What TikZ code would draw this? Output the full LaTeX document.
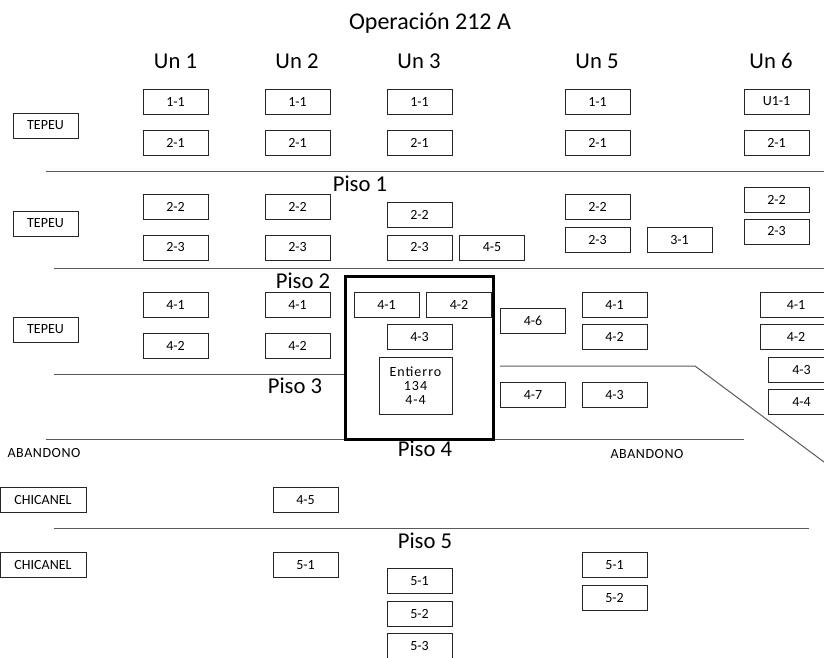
\documentclass[tikz,border=0pt]{standalone}
\usepackage{fontspec}
\setmainfont{Carlito}
\begin{document}
\begin{tikzpicture}[x=0.75pt, y=-0.75pt,
	bx/.style={draw=black!85, line width=0.75pt, minimum width=48.75pt, minimum height=18.75pt, inner sep=0pt, font=\fontsize{10.5}{12}\selectfont},
	hd/.style={font=\fontsize{17}{20}\selectfont, anchor=base, inner sep=0pt},
	sm/.style={font=\fontsize{10.5}{12}\selectfont, inner sep=0pt},
	sep/.style={line width=0.75pt, black!65},
	zn/.style={line width=2.25pt, black}]

	\useasboundingbox (0,0) rectangle (824,657);
	\clip (0,0) rectangle (824,657);

	% titulo y unidades
	\node[hd, font=\fontsize{18}{21}\selectfont] (titulo) at (430,29) {Operación 212 A};
	\node[hd] (un1) at (175.5,68) {Un 1};
	\node[hd] (un2) at (297,68) {Un 2};
	\node[hd] (un3) at (419,68) {Un 3};
	\node[hd] (un5) at (597,68) {Un 5};
	\node[hd] (un6) at (771,68) {Un 6};

	% estratos
	\draw[sep] (46,171) -- (824,171);
	\draw[sep] (54,268) -- (824,268);
	\draw[sep] (54,374) -- (345,374);
	\draw[sep] (500,366) -- (695,366) -- (824,462);
	\draw[sep] (46,439) -- (744,439);
	\draw[sep] (54,528) -- (809,528);
	\node[hd] (p1) at (360,191) {Piso 1};
	\node[hd] (p2) at (303,288) {Piso 2};
	\node[hd] (p3) at (295,393) {Piso 3};
	\node[hd] (p4) at (425,456) {Piso 4};
	\node[hd] (p5) at (425,548) {Piso 5};

	% piso 1
	\node[bx] (t1) at (45.5,125.5) {TEPEU};
	\node[bx] (u1a) at (175.5,101.5) {1-1};
	\node[bx] (u1b) at (175.5,142.5) {2-1};
	\node[bx] (u2a) at (297.5,101.5) {1-1};
	\node[bx] (u2b) at (297.5,142.5) {2-1};
	\node[bx] (u3a) at (419.5,101.5) {1-1};
	\node[bx] (u3b) at (419.5,142.5) {2-1};
	\node[bx] (u5a) at (597.5,101.5) {1-1};
	\node[bx] (u5b) at (597.5,142.5) {2-1};
	\node[bx] (u6a) at (776.5,101.5) {U1-1};
	\node[bx] (u6b) at (776.5,142.5) {2-1};

	% piso 2
	\node[bx] (t2) at (45.5,223.5) {TEPEU};
	\node[bx] (u1c) at (175.5,207) {2-2};
	\node[bx] (u1d) at (175.5,247.5) {2-3};
	\node[bx] (u2c) at (297.5,207) {2-2};
	\node[bx] (u2d) at (297.5,247.5) {2-3};
	\node[bx] (u3c) at (419.5,215) {2-2};
	\node[bx] (u3d) at (419.5,247.5) {2-3};
	\node[bx] (u3e) at (492,247.5) {4-5};
	\node[bx] (u5c) at (597.5,207) {2-2};
	\node[bx] (u5d) at (597.5,239.5) {2-3};
	\node[bx] (u5e) at (679.5,239.5) {3-1};
	\node[bx] (u6c) at (776.5,199.5) {2-2};
	\node[bx] (u6d) at (776.5,231.5) {2-3};

	% piso 3
	\draw[zn] (345,276) rectangle (493,439);
	\node[bx] (t3) at (45.5,329.5) {TEPEU};
	\node[bx] (u1f) at (175.5,304.5) {4-1};
	\node[bx] (u1g) at (175.5,345.5) {4-2};
	\node[bx] (u2f) at (297.5,304.5) {4-1};
	\node[bx] (u2g) at (297.5,345.5) {4-2};
	\node[bx] (u3f) at (386.5,304.5) {4-1};
	\node[bx] (u3g) at (459,304.5) {4-2};
	\node[bx] (u3h) at (419.5,337) {4-3};
	\node[bx, minimum width=54.75pt, minimum height=42.75pt, align=center,
		font=\fontsize{10.5}{10.5}\selectfont\addfontfeature{LetterSpace=7}] (ent) at (415.5,385.5) {Entierro\\134\\4-4};
	\node[bx] (u4a) at (533,321) {4-6};
	\node[bx] (u4b) at (533,394.5) {4-7};
	\node[bx] (u5f) at (614.5,304.5) {4-1};
	\node[bx] (u5g) at (614.5,337) {4-2};
	\node[bx] (u5h) at (614.5,394.5) {4-3};
	\node[bx, minimum width=54pt] (u6f) at (796,304.5) {4-1};
	\node[bx, minimum width=54pt] (u6g) at (796,337) {4-2};
	\node[bx, minimum width=50pt] (u6h) at (801.5,369.5) {4-3};
	\node[bx, minimum width=50pt] (u6i) at (801.5,402) {4-4};

	% piso 4 y 5
	\node[sm, font=\fontsize{10.5}{12}\selectfont\addfontfeature{LetterSpace=4}] (ab1) at (44,453) {ABANDONO};
	\node[sm, font=\fontsize{10.5}{12}\selectfont\addfontfeature{LetterSpace=4}] (ab2) at (647,454) {ABANDONO};
	\node[bx, minimum width=64.5pt] (c1) at (43,500) {CHICANEL};
	\node[bx] (u2h) at (305.5,500) {4-5};
	\node[bx, minimum width=64.5pt] (c2) at (43,565) {CHICANEL};
	\node[bx] (u2i) at (305.5,565) {5-1};
	\node[bx] (u3i) at (419.5,581) {5-1};
	\node[bx] (u3j) at (419.5,614) {5-2};
	\node[bx] (u3k) at (419.5,646) {5-3};
	\node[bx] (u5i) at (614.5,565) {5-1};
	\node[bx] (u5j) at (614.5,597.5) {5-2};
\end{tikzpicture}
\end{document}
